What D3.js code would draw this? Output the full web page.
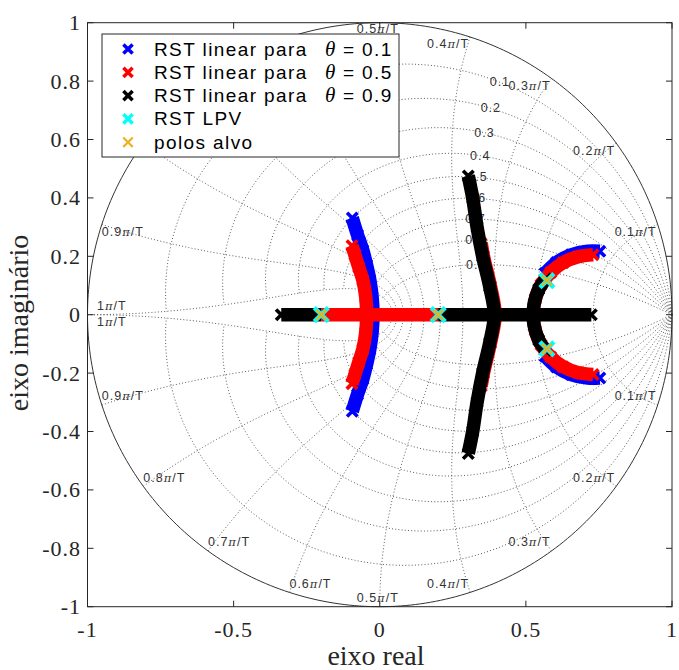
<!DOCTYPE html>
<html><head><meta charset="utf-8">
<script src="https://cdn.jsdelivr.net/npm/d3@7"></script>
<style>body{margin:0;background:#fff}svg{display:block}</style>
</head><body>
<svg id="c" width="679" height="670"></svg>
<script>
// ---------- axis / grid labels ----------
const xTicks = [-1, -0.5, 0, 0.5, 1];
const yTicks = [-1, -0.8, -0.6, -0.4, -0.2, 0, 0.2, 0.4, 0.6, 0.8, 1];
const zetaValues = [0.1, 0.2, 0.3, 0.4, 0.5, 0.6, 0.7, 0.8, 0.9];
const zetaLabels = ["0.1", "0.2", "0.3", "0.4", "0.5", "0.6", "0.7", "0.8", "0.9"];
const wnValues = [0.1, 0.2, 0.3, 0.4, 0.5, 0.6, 0.7, 0.8, 0.9, 1];      // × π/T
const wnLabels = ["0.1", "0.2", "0.3", "0.4", "0.5", "0.6", "0.7", "0.8", "0.9", "1"];
const wnHiddenUpper = [0.6, 0.7, 0.8];   // upper labels covered by the legend
const legendNames = ["RST linear para", "RST linear para", "RST linear para", "RST LPV", "polos alvo"];
const legendTheta = ["0.1", "0.5", "0.9", null, null];
const xLabel = "eixo real", yLabel = "eixo imaginário";

// ---------- pole loci (real, imag) ----------
// θ = 0.1 (blue)
const blueLeft = [[-0.094,0.331],[-0.076,0.273],[-0.058,0.221],[-0.045,0.170],[-0.034,0.119],[-0.026,0.060],[-0.023,0],
                  [-0.026,-0.060],[-0.034,-0.119],[-0.045,-0.170],[-0.058,-0.221],[-0.076,-0.273],[-0.094,-0.331]];
const blueRightUp = [[0.566,0.142],[0.605,0.179],[0.655,0.205],[0.711,0.217],[0.753,0.217]];
const blueRightDown = [[0.566,-0.142],[0.605,-0.179],[0.655,-0.205],[0.711,-0.217],[0.753,-0.217]];
// θ = 0.5 (red)
const redLeft = [[-0.095,0.236],[-0.085,0.205],[-0.072,0.163],[-0.058,0.119],[-0.048,0.061],[-0.045,0],
                 [-0.048,-0.061],[-0.058,-0.119],[-0.072,-0.163],[-0.085,-0.205],[-0.095,-0.236]];
const redAxis = [[-0.2,0],[-0.1,0],[0,0],[0.1,0],[0.2,0]];
const redVertical = [[0.347,0.245],[0.355,0.2],[0.379,0.097],[0.395,0],[0.379,-0.097],[0.355,-0.2],[0.347,-0.245]];
const redRight = [[0.730,0.205],[0.677,0.198],[0.627,0.178],[0.585,0.145],[0.552,0.103],[0.532,0.053],[0.525,0],
                  [0.532,-0.053],[0.552,-0.103],[0.585,-0.145],[0.627,-0.178],[0.677,-0.198],[0.730,-0.205]];
// θ = 0.9 (black)
const blackAxisLeft = [[-0.337,0],[-0.27,0],[-0.2,0]];
const blackAxisRight = [[0.2,0],[0.3,0],[0.4,0],[0.5,0],[0.6,0],[0.724,0]];
const blackVertical = [[0.303,0.475],[0.318,0.40],[0.333,0.30],[0.352,0.20],[0.376,0.097],[0.392,0],
                       [0.376,-0.097],[0.352,-0.20],[0.333,-0.30],[0.318,-0.40],[0.303,-0.475]];
const blackRight = [[0.568,0.122],[0.544,0.087],[0.528,0.036],[0.525,0],[0.528,-0.036],[0.544,-0.087],[0.568,-0.122]];
// RST LPV and target poles
const lpvPoles = [[-0.2,0],[0.2,0],[0.572,0.117],[0.572,-0.117]];
const targetPoles = [[-0.2,0],[0.2,0],[0.572,0.117],[0.572,-0.117]];

const series = [
  {color:"#0000ff", branches:[blueLeft, blueRightUp, blueRightDown]},
  {color:"#ff0000", branches:[redLeft, redAxis, redVertical, redRight]},
  {color:"#000000", branches:[blackAxisLeft, blackAxisRight, blackVertical, blackRight]}
];

// ---------- layout ----------
const svg = d3.select("#c");
const X0 = 87.5, X1 = 672, Y0 = 22.7, Y1 = 606.7;
const x = d3.scaleLinear().domain([-1,1]).range([X0, X1]);
const y = d3.scaleLinear().domain([-1,1]).range([Y1, Y0]);
const axisColor = "#262626";

// ---------- zgrid ----------
const gGrid = svg.append("g");
const gridLine = d3.line().x(d=>x(d[0])).y(d=>y(d[1]));
const PI = Math.PI;
function zpt(zeta, w, sign){ const r=Math.exp(-zeta*w), a=w*Math.sqrt(1-zeta*zeta); return [r*Math.cos(a), sign*r*Math.sin(a)]; }
const gridStyle = s => s.attr("fill","none").attr("stroke","#5a5a5a").attr("stroke-width",1).attr("stroke-dasharray","1,2.2");
zetaValues.forEach(z => {
  [1,-1].forEach(sg => {
    const pts = d3.range(0, 201).map(i => zpt(z, PI*i/200, sg));
    gGrid.append("path").attr("d", gridLine(pts)).call(gridStyle);
  });
});
wnValues.forEach(k => {
  [1,-1].forEach(sg => {
    const pts = d3.range(0, 201).map(i => zpt(i/200, k*PI, sg));
    gGrid.append("path").attr("d", gridLine(pts)).call(gridStyle);
  });
});
const labelFont = s => s.attr("font-family","'Liberation Sans', Arial, sans-serif").attr("font-size",12.5)
  .attr("letter-spacing","1px").attr("fill","#333").attr("dominant-baseline","central");
zetaValues.forEach((z,i) => {
  const p = zpt(z, 0.35*PI, 1);
  gGrid.append("text").attr("x", x(p[0])).attr("y", y(p[1])).attr("text-anchor","middle").call(labelFont).text(zetaLabels[i]);
});
wnValues.forEach((k,i) => {
  [1,-1].forEach(sg => {
    if (sg > 0 && wnHiddenUpper.includes(k)) return;
    const a = k*PI, px = x(Math.cos(a)), py = y(sg*Math.sin(a));
    let anchor, tx = px, ty;
    if (k < 0.5) { anchor = "end"; tx = px - 1; }
    else if (k === 0.5) { anchor = "middle"; tx = px - 2; }
    else { anchor = "start"; }
    if (k === 1) { tx = px + 9.5; ty = sg > 0 ? py - 8.5 : py + 7.5; }
    else if (k === 0.5) { ty = sg > 0 ? py + 6.5 : py - 8.5; }
    else { ty = sg > 0 ? py + 7.5 : py - 8.5; }
    const t = gGrid.append("text").attr("x", tx).attr("y", ty).attr("text-anchor", anchor).call(labelFont);
    t.append("tspan").text(wnLabels[i]);
    t.append("tspan").attr("font-style","italic").attr("font-family","'DejaVu Serif', serif").attr("font-size",11.5).text("π");
    t.append("tspan").text("/T");
  });
});
svg.append("path").attr("d", gridLine(d3.range(0,361).map(i=>[Math.cos(i*PI/180), Math.sin(i*PI/180)])))
  .attr("fill","none").attr("stroke","#333").attr("stroke-width",1);

// ---------- data ----------
const gData = svg.append("g");
const band = d3.line().x(d=>x(d[0])).y(d=>y(d[1])).curve(d3.curveCatmullRom);
const xPath = s => `M${-s/2},${-s/2}L${s/2},${s/2}M${-s/2},${s/2}L${s/2},${-s/2}`;
function markers(g, pts, color, size, w){
  g.selectAll(null).data(pts).enter().append("path")
    .attr("d", xPath(size)).attr("transform", d=>`translate(${x(d[0])},${y(d[1])})`)
    .attr("fill","none").attr("stroke", color).attr("stroke-width", w);
}
series.forEach(s => {
  const g = gData.append("g");
  s.branches.forEach(b => {
    g.append("path").attr("d", band(b)).attr("fill","none").attr("stroke", s.color)
      .attr("stroke-width", 13.5).attr("stroke-linejoin","round");
    markers(g, b, s.color, 10.5, 3.6);
  });
});
markers(gData, lpvPoles, "#00ffff", 14, 4.5);
markers(gData, targetPoles, "#edb120", 10, 2.3);

// ---------- axes box & ticks ----------
const gAx = svg.append("g");
gAx.append("rect").attr("x",X0).attr("y",Y0).attr("width",X1-X0).attr("height",Y1-Y0)
  .attr("fill","none").attr("stroke",axisColor).attr("stroke-width",1);
const tl = 6;
const serif = "'Liberation Serif', 'Times New Roman', serif";
xTicks.forEach(v => {
  gAx.append("line").attr("x1",x(v)).attr("x2",x(v)).attr("y1",Y1).attr("y2",Y1-tl).attr("stroke",axisColor);
  gAx.append("line").attr("x1",x(v)).attr("x2",x(v)).attr("y1",Y0).attr("y2",Y0+tl).attr("stroke",axisColor);
  gAx.append("text").attr("x",x(v)).attr("y",637).attr("text-anchor","middle")
    .attr("font-family",serif).attr("font-size",22).attr("letter-spacing","1px")
    .attr("fill",axisColor).text(String(v));
});
yTicks.forEach(v => {
  gAx.append("line").attr("y1",y(v)).attr("y2",y(v)).attr("x1",X0).attr("x2",X0+tl).attr("stroke",axisColor);
  gAx.append("line").attr("y1",y(v)).attr("y2",y(v)).attr("x1",X1).attr("x2",X1-tl).attr("stroke",axisColor);
  gAx.append("text").attr("x",81).attr("y",y(v)).attr("text-anchor","end").attr("dominant-baseline","central")
    .attr("font-family",serif).attr("font-size",22).attr("letter-spacing","1px")
    .attr("fill",axisColor).text(String(v));
});
gAx.append("text").attr("x",376).attr("y",665).attr("text-anchor","middle")
  .attr("font-family",serif).attr("font-size",28).attr("fill",axisColor).text(xLabel);
gAx.append("text").attr("transform","translate(28,323) rotate(-90)").attr("text-anchor","middle")
  .attr("font-family",serif).attr("font-size",28).attr("fill",axisColor).text(yLabel);

// ---------- legend ----------
const gLeg = svg.append("g");
gLeg.append("rect").attr("x",102).attr("y",34).attr("width",297).attr("height",123)
  .attr("fill","#fff").attr("stroke",axisColor).attr("stroke-width",1);
const legColors = ["#0000ff","#ff0000","#000000","#00ffff","#edb120"];
legendNames.forEach((name,i) => {
  const base = 55.5 + i*23.3;
  const cy = base - 6.5;
  const isTarget = i === 4;
  gLeg.append("path").attr("d", xPath(isTarget ? 9.5 : 9.2)).attr("transform",`translate(128,${cy})`)
    .attr("fill","none").attr("stroke",legColors[i]).attr("stroke-width", isTarget ? 2.3 : 3.5);
  gLeg.append("text").attr("x",154).attr("y",base).attr("font-family","'Liberation Sans', Arial, sans-serif")
    .attr("font-size",19).attr("letter-spacing","1.4px").attr("fill","#000").text(name);
  if (legendTheta[i]) {
    gLeg.append("text").attr("x",325).attr("y",base).attr("font-family",serif)
      .attr("font-style","italic").attr("font-size",21).attr("fill","#000").text("θ");
    gLeg.append("text").attr("x",343).attr("y",base).attr("font-family","'Liberation Sans', Arial, sans-serif")
      .attr("font-size",19).attr("fill","#000").text("=");
    gLeg.append("text").attr("x",362).attr("y",base).attr("font-family","'Liberation Sans', Arial, sans-serif")
      .attr("font-size",19).attr("letter-spacing","1.4px").attr("fill","#000").text(legendTheta[i]);
  }
});
</script>
</body></html>
